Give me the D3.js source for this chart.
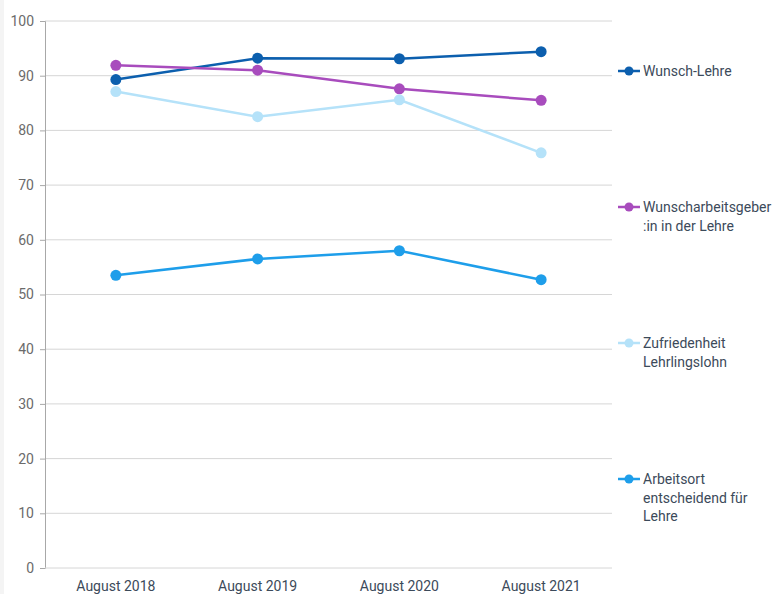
<!DOCTYPE html>
<html><head><meta charset="utf-8">
<script src="https://cdn.jsdelivr.net/npm/d3@7"></script>
<style>body{margin:0;background:#fff;}svg{display:block;}</style>
</head><body>
<svg id="c" width="776" height="594"></svg>
<script>
const categories = ["August 2018","August 2019","August 2020","August 2021"];
const wunschLehre = [89.3, 93.2, 93.1, 94.4];
const wunschArbeitgeber = [91.9, 91.0, 87.6, 85.5];
const zufriedenheitLohn = [87.1, 82.5, 85.6, 75.9];
const arbeitsort = [53.5, 56.5, 58.0, 52.7];
const yTicks = [0,10,20,30,40,50,60,70,80,90,100];
const seriesNames = [["Wunsch-Lehre"],["Wunscharbeitsgeber",":in in der Lehre"],["Zufriedenheit","Lehrlingslohn"],["Arbeitsort","entscheidend für","Lehre"]];
const seriesValues = [wunschLehre, wunschArbeitgeber, zufriedenheitLohn, arbeitsort];
const colors = ["#0c5fae","#a84cbd","#b5e2f9","#1e9eea"];
const legendY = [71, 207, 343, 479];

const svg = d3.select("#c");
const m = {l:45, r:612, t:21, b:568};
svg.append("rect").attr("x",0).attr("y",0).attr("width",4).attr("height",594).attr("fill","#f4f4f4");
const x = d3.scaleBand().domain(categories).range([m.l, m.r]);
const y = d3.scaleLinear().domain([0,100]).range([m.b, m.t]);
const font = "Roboto, 'Noto Sans', sans-serif";

// grid
svg.append("g").selectAll("line").data(yTicks.filter(d=>d>0)).join("line")
  .attr("x1", m.l).attr("x2", m.r).attr("y1", d=>y(d)).attr("y2", d=>y(d))
  .attr("stroke","#d6d6d6").attr("stroke-width",1);

// y axis
const ya = svg.append("g").attr("transform",`translate(${m.l},0)`)
  .call(d3.axisLeft(y).tickValues(yTicks).tickSize(5).tickPadding(6));
ya.select(".domain").attr("stroke","#a8a8a8");
ya.selectAll(".tick line").attr("stroke","#a8a8a8");
ya.selectAll("text").attr("fill","#6b6b6b").style("font-family",font).style("font-size","14px");
// baseline
svg.append("line").attr("x1",m.l).attr("x2",m.r).attr("y1",y(0)).attr("y2",y(0)).attr("stroke","#d6d6d6");

// x axis labels
const xa = svg.append("g").attr("transform",`translate(0,${m.b})`)
  .call(d3.axisBottom(x).tickSize(0).tickPadding(13));
xa.select(".domain").remove();
xa.selectAll("text").attr("fill","#3c4a5a").style("font-family",font).style("font-size","14px");

const line = d3.line().x((d,i)=>x(categories[i])+x.bandwidth()/2).y(d=>y(d));
seriesValues.forEach((vals,si)=>{
  svg.append("path").datum(vals).attr("d",line).attr("fill","none")
    .attr("stroke",colors[si]).attr("stroke-width",2.5);
  svg.append("g").selectAll("circle").data(vals).join("circle")
    .attr("cx",(d,i)=>x(categories[i])+x.bandwidth()/2).attr("cy",d=>y(d)).attr("r",5.5)
    .attr("fill",colors[si]);
});

// legend
seriesNames.forEach((lines,si)=>{
  const g = svg.append("g").attr("transform",`translate(618,${legendY[si]})`);
  g.append("line").attr("x1",0).attr("x2",22).attr("y1",0).attr("y2",0).attr("stroke",colors[si]).attr("stroke-width",2.5);
  g.append("circle").attr("cx",11).attr("cy",0).attr("r",4.5).attr("fill",colors[si]);
  const t = g.append("text").attr("x",25).attr("y",5).attr("fill","#3c4a5a")
    .style("font-family",font).style("font-size","14px");
  lines.forEach((s,i)=>t.append("tspan").attr("x",25).attr("dy", i===0?0:18.5).text(s));
});
</script>
</body></html>
